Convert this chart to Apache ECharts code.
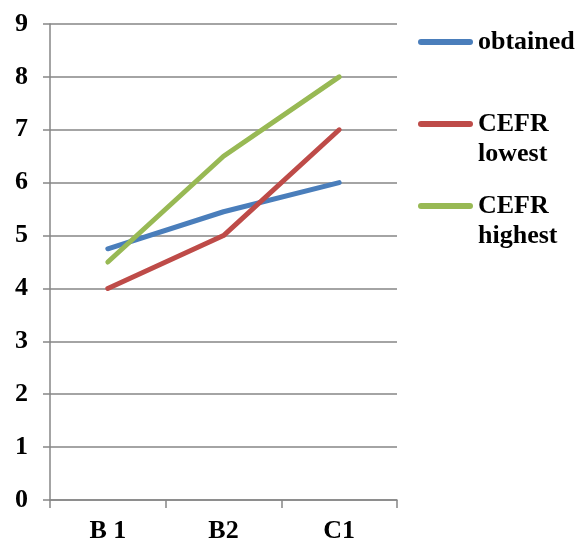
<!DOCTYPE html>
<html>
<head>
<meta charset="utf-8">
<script src="https://cdn.jsdelivr.net/npm/echarts@6/dist/echarts.min.js"></script>
<style>
  html, body { margin: 0; padding: 0; background: #fff; }
  #chart { width: 581px; height: 544px; }
</style>
</head>
<body>
<div id="chart"></div>
<script>
// Levels along the x axis
const categories = ['B 1', 'B2', 'C1'];
// Scores per level
const obtained = [4.75, 5.45, 6.0];
const cefrLowest = [4, 5, 7];
const cefrHighest = [4.5, 6.5, 8];
// Series names as shown in the legend
const seriesNames = ['obtained', 'CEFR\nlowest', 'CEFR\nhighest'];

const font = 'Liberation Serif, Times New Roman, serif';
const gray = '#868686';
const colors = ['#4a7ebb', '#be4b48', '#98b954'];

const chart = echarts.init(document.getElementById('chart'));

// One legend block per series; multi-line names get a blank leading line so
// the first text line sits level with the swatch.
function legendFor(name, top) {
  return {
    data: [name],
    left: 413,
    top: top,
    orient: 'vertical',
    itemWidth: 55,
    itemHeight: 6,
    icon: 'path://M3,0 L52,0 A3,3 0 0 1 52,6 L3,6 A3,3 0 0 1 3,0 Z',
    formatter: n => (n.indexOf('\n') >= 0 ? ' \n' + n : n),
    textStyle: {
      fontFamily: font, fontWeight: 'bold', fontSize: 26, color: '#000',
      lineHeight: 30
    },
    selectedMode: false
  };
}

chart.setOption({
  animation: false,
  color: colors,
  grid: { left: 50, right: 184, top: 24, bottom: 43 },
  legend: [
    legendFor(seriesNames[0], 22),
    legendFor(seriesNames[1], 74),
    legendFor(seriesNames[2], 156)
  ],
  xAxis: {
    type: 'category',
    data: categories,
    boundaryGap: true,
    axisLine: { lineStyle: { color: gray, width: 1.5 } },
    axisTick: { show: true, length: 8, lineStyle: { color: gray, width: 1.5 } },
    axisLabel: { margin: 18, fontFamily: font, fontWeight: 'bold', fontSize: 26, color: '#000' }
  },
  yAxis: {
    type: 'value',
    min: 0, max: 9, interval: 1,
    axisLine: { show: true, lineStyle: { color: gray, width: 1.5 } },
    axisTick: { show: true, length: 7, lineStyle: { color: gray, width: 1.5 } },
    axisLabel: { margin: 22, fontFamily: font, fontWeight: 'bold', fontSize: 26, color: '#000' },
    splitLine: { lineStyle: { color: gray, width: 1.5 } }
  },
  series: [
    { name: seriesNames[0], type: 'line', data: obtained },
    { name: seriesNames[1], type: 'line', data: cefrLowest },
    { name: seriesNames[2], type: 'line', data: cefrHighest }
  ].map(s => Object.assign(s, {
    showSymbol: false,
    symbol: 'none',
    lineStyle: { width: 5, cap: 'round', join: 'round' }
  }))
});
</script>
</body>
</html>
